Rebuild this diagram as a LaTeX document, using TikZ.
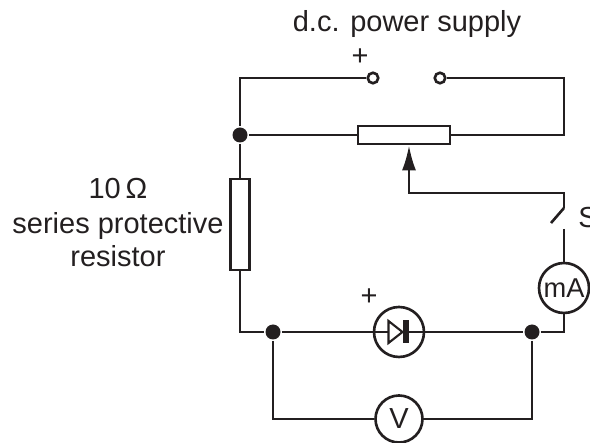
\documentclass[tikz,border=0pt]{standalone}
\usepackage{fontspec}
\setmainfont{Liberation Sans}
\usetikzlibrary{calc, arrows, arrows.meta, shapes}
\tikzset{>={Latex[length=5mm, width=2.8mm]}}
\definecolor{mywire}{RGB}{35, 31, 32}

\tikzset{
  meter/.style = {draw, circle, minimum size = 1cm, inner sep = 0pt},
  resbox/.style = {draw, fill = white, rectangle, inner sep = 0pt},
  term/.style = {draw, circle, fill = white, minimum size = 0.21cm, inner sep = 0pt},
  junc/.style = {fill, circle, minimum size = 0.3cm, inner sep = 0pt},
  lbl/.style = {font = \fontsize{16.5}{19}\selectfont, inner sep = 0pt},
  mlbl/.style = {font = \fontsize{15.5}{18}\selectfont}
}

\begin{document}
\begin{tikzpicture}[line width = 1.5pt, mywire]
\useasboundingbox (0,0) rectangle (11.8, 8.86);
% supply terminals and top loop
\coordinate (tl) at (4.8, 7.3);
\coordinate (tr) at (11.28, 7.3);
\coordinate (pr) at (11.28, 6.16);
\node[term] (tA) at (7.46, 7.3) {};
\node[term] (tB) at (8.8, 7.3) {};
\node[junc] (j1) at (4.8, 6.16) {};
\node[resbox, minimum width = 1.84cm, minimum height = 0.36cm] (pot) at (8.08, 6.16) {};
\node[resbox, minimum width = 0.38cm, minimum height = 1.82cm] (R) at (4.8, 4.37) {};
\draw (tA) -- (tl) -- (j1) -- (R);
\draw (j1) -- (pot) -- (pr) -- (tr) -- (tB);
% wiper and switch S
\coordinate (w1) at (8.18, 5.0);
\coordinate (s1) at (11.28, 4.7);
\coordinate (s2) at (11.02, 4.4);
\coordinate (s3) at (11.28, 4.28);
\draw[->] (s1) |- (w1) -- (w1 |- pot.south);
\draw (s1) -- (s2);
\node[meter, mlbl] (mA) at (11.28, 3.1) {mA};
\draw (s3) -- (mA);
% diode row
\coordinate (bl) at (4.8, 2.22);
\coordinate (br) at (11.28, 2.22);
\node[junc] (j2) at (5.46, 2.22) {};
\node[junc] (j3) at (10.64, 2.22) {};
\node[meter] (D) at (7.98, 2.22) {};
\draw (R) -- (bl) -- (j2) -- (j3) -- (br) -- (mA);
\draw[fill = white, line width = 1.2pt] ($(D)+(-0.21,0.22)$) -- ($(D)+(0.07,0)$) -- ($(D)+(-0.21,-0.22)$) -- cycle;
\fill ($(D)+(0.07,-0.23)$) rectangle ($(D)+(0.19,0.23)$);
% voltmeter
\node[meter, minimum size = 0.94cm, lbl] (V) at (7.98, 0.48) {V};
\draw (j2) |- (V);
\draw (j3) |- (V);
% labels
\node[lbl, anchor = base] (ttl) at (8.14, 8.22) {d.c. power supply};
\node[lbl] (pA) at (7.2, 7.72) {+};
\node[lbl] (pD) at (7.38, 2.92) {+};
\node[lbl, anchor = west] (sw) at (11.54, 4.5) {S};
\node[lbl, anchor = base] (r1) at (2.36, 4.88) {10\,Ω};
\node[lbl, anchor = base] (r2) at (2.36, 4.18) {series protective};
\node[lbl, anchor = base] (r3) at (2.36, 3.52) {resistor};
\end{tikzpicture}
\end{document}
